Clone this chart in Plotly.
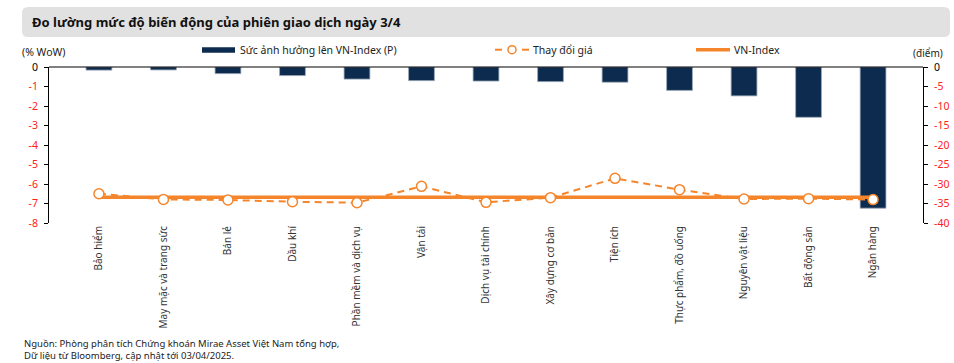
import plotly.graph_objects as go

categories = ["Bảo hiểm", "May mặc và trang sức", "Bán lẻ", "Dầu khí", "Phần mềm và dịch vụ",
              "Vận tải", "Dịch vụ tài chính", "Xây dựng cơ bản", "Tiện ích",
              "Thực phẩm, đồ uống", "Nguyên vật liệu", "Bất động sản", "Ngân hàng"]
impact_points = [-0.8, -0.75, -1.7, -2.2, -3.1, -3.5, -3.6, -3.75, -3.9, -6.0, -7.4, -12.9, -36.2]
price_change = [-6.5, -6.79, -6.82, -6.91, -6.96, -6.12, -6.94, -6.70, -5.71, -6.29, -6.77, -6.75, -6.80]
vnindex_change = [-6.68] * len(categories)
left_ticks = [0, -1, -2, -3, -4, -5, -6, -7, -8]
right_ticks = [0, -5, -10, -15, -20, -25, -30, -35, -40]

W, H = 954, 363
L, R, T, B = 49, 923, 67, 223
NAVY = "#0c2b4e"
ORANGE = "#f5852a"
FONT = "Noto Sans"


def px(x):
    return (x - L) / (R - L)


def py(y):
    return (B - y) / (B - T)


def tick_text(v):
    if v == 0:
        return "<span style='color:#000000'>0</span>"
    return f"<span style='color:#ff2020'>{v}</span>"


fig = go.Figure()
fig.add_trace(go.Bar(x=categories, y=impact_points, yaxis="y", marker=dict(color=NAVY, line=dict(color="#9aa7b6", width=0.8)),
                     width=0.4, name="Sức ảnh hưởng lên VN-Index (P)", showlegend=False))
fig.add_trace(go.Scatter(x=categories, y=vnindex_change, yaxis="y2", mode="lines",
                         line=dict(color=ORANGE, width=3.5), name="VN-Index", showlegend=False))
fig.add_trace(go.Scatter(x=categories, y=price_change, yaxis="y2", mode="lines+markers",
                         line=dict(color=ORANGE, width=2, dash="7px,5px"),
                         marker=dict(symbol="circle", size=10, color="white", line=dict(color=ORANGE, width=1.5)),
                         name="Thay đổi giá", showlegend=False))

shapes = []
annotations = []

# Title banner (rounded rect)
x0, x1, y0, y1, r = 22, 950, 7, 37, 6
def P(x, y):
    return f"{px(x)},{py(y)}"
path = (f"M {P(x0 + r, y0)} L {P(x1 - r, y0)} Q {P(x1, y0)} {P(x1, y0 + r)} L {P(x1, y1 - r)} "
        f"Q {P(x1, y1)} {P(x1 - r, y1)} L {P(x0 + r, y1)} Q {P(x0, y1)} {P(x0, y1 - r)} L {P(x0, y0 + r)} "
        f"Q {P(x0, y0)} {P(x0 + r, y0)} Z")
shapes.append(dict(type="path", xref="paper", yref="paper", path=path, fillcolor="#e1e1e1", line=dict(width=0), layer="below"))
annotations.append(dict(xref="paper", yref="paper", x=px(30), y=py(22), xanchor="left", yanchor="middle", showarrow=False,
                        text="<b>Đo lường mức độ biến động của phiên giao dịch ngày 3/4</b>",
                        font=dict(family=FONT, size=13, color="#111111")))

# Axis line at zero (top)
shapes.append(dict(type="line", xref="paper", yref="paper", x0=0, x1=1, y0=1, y1=1, line=dict(color="#000000", width=1)))

# Custom legend
shapes.append(dict(type="rect", xref="paper", yref="paper", x0=px(202), x1=px(235), y0=py(47.3), y1=py(52.7),
                   fillcolor=NAVY, line=dict(width=0)))
annotations.append(dict(xref="paper", yref="paper", x=px(238), y=py(50), xanchor="left", yanchor="middle", showarrow=False,
                        text="Sức ảnh hưởng lên VN-Index (P)", font=dict(family=FONT, size=10.5, color="#222222")))
for a, b in [(495, 502), (522, 529)]:
    shapes.append(dict(type="line", xref="paper", yref="paper", x0=px(a), x1=px(b), y0=py(49.7), y1=py(49.7),
                       line=dict(color=ORANGE, width=2)))
shapes.append(dict(type="circle", xref="paper", yref="paper", x0=px(508), x1=px(516), y0=py(45.7), y1=py(53.7),
                   fillcolor="white", line=dict(color=ORANGE, width=1.5)))
annotations.append(dict(xref="paper", yref="paper", x=px(531), y=py(50), xanchor="left", yanchor="middle", showarrow=False,
                        text="Thay đổi giá", font=dict(family=FONT, size=10.5, color="#222222")))
shapes.append(dict(type="line", xref="paper", yref="paper", x0=px(696), x1=px(730), y0=py(49.7), y1=py(49.7),
                   line=dict(color=ORANGE, width=3.5)))
annotations.append(dict(xref="paper", yref="paper", x=px(732), y=py(50), xanchor="left", yanchor="middle", showarrow=False,
                        text="VN-Index", font=dict(family=FONT, size=10.5, color="#222222")))

# Axis titles
annotations.append(dict(xref="paper", yref="paper", x=px(20), y=py(52), xanchor="left", yanchor="middle", showarrow=False,
                        text="(% WoW)", font=dict(family=FONT, size=10.5, color="#222222")))
annotations.append(dict(xref="paper", yref="paper", x=px(945), y=py(53), xanchor="right", yanchor="middle", showarrow=False,
                        text="(điểm)", font=dict(family=FONT, size=10, color="#222222")))

# Footnote
annotations.append(dict(xref="paper", yref="paper", x=px(22), y=py(349), xanchor="left", yanchor="middle", showarrow=False,
                        align="left",
                        text="Nguồn: Phòng phân tích Chứng khoán Mirae Asset Việt Nam tổng hợp,<br>Dữ liệu từ Bloomberg, cập nhật tới 03/04/2025.",
                        font=dict(family=FONT, size=9.5, color="#222222")))

fig.update_layout(
    width=W, height=H,
    margin=dict(l=L, r=W - R, t=T, b=H - B, pad=0),
    paper_bgcolor="white", plot_bgcolor="white",
    font=dict(family=FONT, size=10.5, color="#222222"),
    showlegend=False,
    bargap=0.6,
    xaxis=dict(type="category", tickangle=-90, showline=False, showgrid=False, ticks="",
               tickfont=dict(family=FONT, size=10, color="#333333"), automargin=False),
    yaxis=dict(range=[-40, 0], side="right", tickvals=right_ticks, ticktext=[tick_text(v) for v in right_ticks],
               showgrid=False, zeroline=False, showline=True, linecolor="#000000", linewidth=1,
               ticks="outside", ticklen=4, tickcolor="#000000", automargin=False, ticklabelstandoff=4,
               tickfont=dict(family=FONT, size=10.5)),
    yaxis2=dict(range=[-8, 0], side="left", overlaying="y", tickvals=left_ticks, ticktext=[tick_text(v) for v in left_ticks],
                showgrid=False, zeroline=False, showline=True, linecolor="#000000", linewidth=1,
                ticks="outside", ticklen=4, tickcolor="#000000", automargin=False, ticklabelstandoff=4,
                tickfont=dict(family=FONT, size=10.5)),
    shapes=shapes,
    annotations=annotations,
)

fig.write_html("out.html", config={"displayModeBar": False},
               post_script="document.body.style.margin='0px';document.body.style.overflow='hidden';")
